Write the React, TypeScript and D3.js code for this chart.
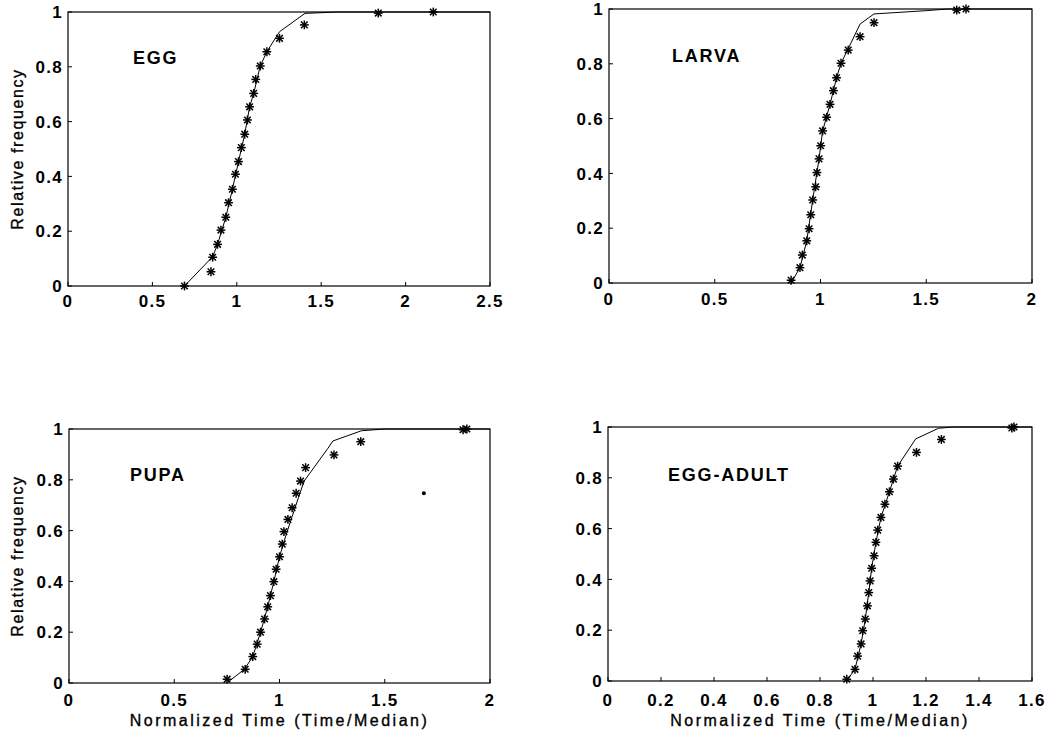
import React from "react";
import * as d3 from "d3";

// ---------- data ----------
const EGG_X = [0.69, 0.847, 0.857, 0.886, 0.906, 0.935, 0.951, 0.974, 0.992, 1.01, 1.027, 1.047, 1.063, 1.076, 1.1, 1.112, 1.139, 1.178, 1.253, 1.4, 1.838, 2.164];
const EGG_Y = [0.0, 0.052, 0.105, 0.152, 0.204, 0.251, 0.304, 0.353, 0.408, 0.454, 0.505, 0.554, 0.606, 0.654, 0.703, 0.754, 0.803, 0.855, 0.904, 0.953, 0.996, 1.0];
const EGG_LINE_X = [0.69, 0.857, 0.886, 0.935, 0.974, 1.01, 1.047, 1.076, 1.1, 1.139, 1.178, 1.253, 1.404, 1.6, 2.5];
const EGG_LINE_Y = [0.0, 0.107, 0.152, 0.251, 0.353, 0.454, 0.554, 0.654, 0.703, 0.803, 0.855, 0.928, 0.995, 1.0, 1.0];

const LARVA_X = [0.861, 0.903, 0.914, 0.935, 0.946, 0.954, 0.963, 0.977, 0.983, 0.993, 1.001, 1.01, 1.029, 1.045, 1.061, 1.076, 1.097, 1.131, 1.187, 1.253, 1.644, 1.688];
const LARVA_Y = [0.01, 0.056, 0.102, 0.154, 0.198, 0.249, 0.303, 0.351, 0.403, 0.453, 0.501, 0.555, 0.605, 0.652, 0.702, 0.749, 0.802, 0.85, 0.899, 0.95, 0.996, 1.0];
const LARVA_LINE_X = [0.861, 0.903, 0.935, 0.963, 0.993, 1.01, 1.045, 1.076, 1.097, 1.131, 1.187, 1.253, 1.5, 1.6, 2.0];
const LARVA_LINE_Y = [0.0, 0.056, 0.154, 0.303, 0.453, 0.555, 0.652, 0.749, 0.802, 0.855, 0.945, 0.982, 0.994, 1.0, 1.0];

const PUPA_X = [0.751, 0.837, 0.873, 0.894, 0.91, 0.929, 0.944, 0.957, 0.973, 0.984, 1.0, 1.013, 1.021, 1.04, 1.06, 1.079, 1.1, 1.124, 1.259, 1.386, 1.872, 1.89];
const PUPA_Y = [0.015, 0.054, 0.104, 0.153, 0.2, 0.252, 0.3, 0.344, 0.399, 0.448, 0.497, 0.547, 0.596, 0.644, 0.69, 0.747, 0.795, 0.848, 0.898, 0.95, 0.997, 1.0];
const PUPA_LINE_X = [0.75, 0.833, 0.873, 0.91, 0.944, 0.973, 1.0, 1.03, 1.06, 1.09, 1.117, 1.23, 1.254, 1.389, 1.5, 2.0];
const PUPA_LINE_Y = [0.0, 0.054, 0.104, 0.2, 0.3, 0.399, 0.497, 0.58, 0.655, 0.73, 0.795, 0.924, 0.953, 0.993, 1.0, 1.0];
const PUPA_DOT_X = [1.686];
const PUPA_DOT_Y = [0.747];

const ADULT_X = [0.901, 0.932, 0.942, 0.955, 0.961, 0.971, 0.979, 0.984, 0.989, 0.995, 1.004, 1.011, 1.018, 1.03, 1.045, 1.062, 1.077, 1.093, 1.164, 1.258, 1.524, 1.532];
const ADULT_Y = [0.007, 0.046, 0.098, 0.146, 0.198, 0.244, 0.296, 0.348, 0.394, 0.444, 0.493, 0.546, 0.594, 0.644, 0.696, 0.745, 0.795, 0.846, 0.9, 0.951, 0.996, 1.0];
const ADULT_LINE_X = [0.9, 0.932, 0.955, 0.971, 0.984, 0.995, 1.011, 1.03, 1.062, 1.093, 1.161, 1.247, 1.3, 1.6];
const ADULT_LINE_Y = [0.0, 0.046, 0.146, 0.244, 0.348, 0.444, 0.546, 0.644, 0.745, 0.846, 0.953, 0.995, 1.0, 1.0];

const Y_TICKS = [0, 0.2, 0.4, 0.6, 0.8, 1];
const X_TICKS_EGG = [0, 0.5, 1, 1.5, 2, 2.5];
const X_TICKS_HALF = [0, 0.5, 1, 1.5, 2];
const X_TICKS_ADULT = [0, 0.2, 0.4, 0.6, 0.8, 1, 1.2, 1.4, 1.6];

const TITLES = ["EGG", "LARVA", "PUPA", "EGG-ADULT"];
const Y_TITLE = "Relative frequency";
const X_TITLE = "Normalized Time (Time/Median)";

// ---------- layout ----------
const FONT = "'Liberation Sans', Arial, Helvetica, sans-serif";

type PanelSpec = {
  title: string;
  left: number; right: number; top: number; bottom: number;
  xMax: number; xTicks: number[];
  sx: number[]; sy: number[]; lx: number[]; ly: number[];
  dx?: number[]; dy?: number[];
  titleX: number; titleY: number;
  xLabelY: number;
  yTitle: boolean; xTitle: boolean;
};

const X_TITLE_Y = 726;

const PANELS: PanelSpec[] = [
  { title: TITLES[0], left: 68, right: 490, top: 12, bottom: 286, xMax: 2.5, xTicks: X_TICKS_EGG,
    sx: EGG_X, sy: EGG_Y, lx: EGG_LINE_X, ly: EGG_LINE_Y, titleX: 133, titleY: 64, xLabelY: 307, yTitle: true, xTitle: false },
  { title: TITLES[1], left: 609, right: 1032, top: 9, bottom: 283, xMax: 2, xTicks: X_TICKS_HALF,
    sx: LARVA_X, sy: LARVA_Y, lx: LARVA_LINE_X, ly: LARVA_LINE_Y, titleX: 672, titleY: 62, xLabelY: 305, yTitle: false, xTitle: false },
  { title: TITLES[2], left: 69, right: 490, top: 429, bottom: 683, xMax: 2, xTicks: X_TICKS_HALF,
    sx: PUPA_X, sy: PUPA_Y, lx: PUPA_LINE_X, ly: PUPA_LINE_Y, dx: PUPA_DOT_X, dy: PUPA_DOT_Y,
    titleX: 130, titleY: 481, xLabelY: 706, yTitle: true, xTitle: true },
  { title: TITLES[3], left: 608, right: 1032, top: 427, bottom: 681, xMax: 1.6, xTicks: X_TICKS_ADULT,
    sx: ADULT_X, sy: ADULT_Y, lx: ADULT_LINE_X, ly: ADULT_LINE_Y, titleX: 668, titleY: 481, xLabelY: 706, yTitle: false, xTitle: true },
];

const fmt = (v: number) => String(+v.toFixed(1));

function Star({ x, y }: { x: number; y: number }) {
  const r = 4.4;
  const d = r * 0.75;
  return (
    <g stroke="#000" strokeWidth={1.5}>
      <line x1={x} y1={y - r} x2={x} y2={y + r} />
      <line x1={x - r} y1={y} x2={x + r} y2={y} />
      <line x1={x - d} y1={y - d} x2={x + d} y2={y + d} />
      <line x1={x - d} y1={y + d} x2={x + d} y2={y - d} />
    </g>
  );
}

function Panel({ p }: { p: PanelSpec }) {
  const x = d3.scaleLinear().domain([0, p.xMax]).range([p.left, p.right]);
  const y = d3.scaleLinear().domain([0, 1]).range([p.bottom, p.top]);
  const linePts: [number, number][] = p.lx.map((v, i) => [v, p.ly[i]]);
  const lineGen = d3.line<[number, number]>().x((d) => x(d[0])).y((d) => y(d[1]));
  const tick = 4;
  return (
    <g>
      <rect x={p.left} y={p.top} width={p.right - p.left} height={p.bottom - p.top}
        fill="none" stroke="#000" strokeWidth={1.2} />
      {p.xTicks.map((t) => (
        <g key={"xt" + t}>
          <line x1={x(t)} x2={x(t)} y1={p.bottom} y2={p.bottom - tick} stroke="#000" strokeWidth={1} />
          <text x={x(t)} y={p.xLabelY} textAnchor="middle" fontFamily={FONT} fontWeight="bold"
            fontSize={17} letterSpacing={1.3} fill="#000">{fmt(t)}</text>
        </g>
      ))}
      {Y_TICKS.map((t) => (
        <g key={"yt" + t}>
          <line x1={p.left} x2={p.left + tick} y1={y(t)} y2={y(t)} stroke="#000" strokeWidth={1} />
          <text x={p.left - 5} y={y(t)} dy="0.36em" textAnchor="end" fontFamily={FONT} fontWeight="bold"
            fontSize={17} letterSpacing={1.3} fill="#000">{fmt(t)}</text>
        </g>
      ))}
      <path d={lineGen(linePts) || ""} fill="none" stroke="#000" strokeWidth={1} />
      {p.sx.map((v, i) => (
        <Star key={"s" + i} x={x(v)} y={y(p.sy[i])} />
      ))}
      {(p.dx || []).map((v, i) => (
        <circle key={"d" + i} cx={x(v)} cy={y((p.dy || [])[i])} r={2} fill="#000" />
      ))}
      <text x={p.titleX} y={p.titleY} fontFamily={FONT} fontWeight="bold" fontSize={18}
        letterSpacing={1.8} fill="#000">{p.title}</text>
      {p.yTitle && (
        <text transform={`translate(23, ${(p.top + p.bottom) / 2}) rotate(-90)`} textAnchor="middle"
          fontFamily={FONT} fontSize={16} letterSpacing={1.6} fill="#000" stroke="#000" strokeWidth={0.35}>
          {Y_TITLE}
        </text>
      )}
      {p.xTitle && (
        <text x={(p.left + p.right) / 2} y={X_TITLE_Y} textAnchor="middle"
          fontFamily={FONT} fontSize={16} letterSpacing={2.5} fill="#000" stroke="#000" strokeWidth={0.35}>
          {X_TITLE}
        </text>
      )}
    </g>
  );
}

export default function App() {
  return (
    <svg width={1048} height={737} style={{ position: "absolute", left: 0, top: 0, background: "#fff" }}>
      <rect x={0} y={0} width={1048} height={737} fill="#fff" />
      {PANELS.map((p) => (
        <Panel key={p.title} p={p} />
      ))}
    </svg>
  );
}
